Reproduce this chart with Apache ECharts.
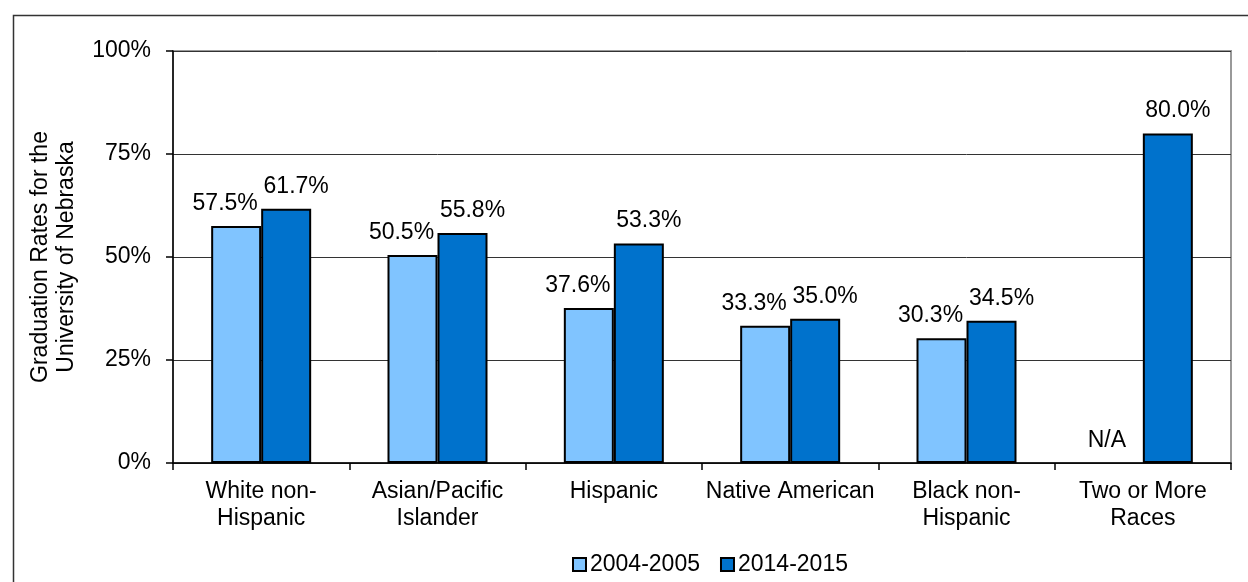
<!DOCTYPE html>
<html>
<head>
<meta charset="utf-8">
<script src="https://cdn.jsdelivr.net/npm/echarts@6/dist/echarts.min.js"></script>
<style>
html,body{margin:0;padding:0;background:#fff;}
#chart{width:1248px;height:582px;}
</style>
</head>
<body>
<div id="chart"></div>
<script>
const categories = ["White non-\nHispanic", "Asian/Pacific\nIslander", "Hispanic", "Native American", "Black non-\nHispanic", "Two or More\nRaces"];
const seriesNames = ["2004-2005", "2014-2015"];
const rates2004 = [57.5, 50.5, 37.6, 33.3, 30.3, null];
const rates2014 = [61.7, 55.8, 53.3, 35.0, 34.5, 80.0];
const yTicks = [0, 25, 50, 75, 100];
const yAxisTitle = "Graduation Rates for the\nUniversity of Nebraska";
const missingText = "N/A";

const FONT = "Liberation Sans, Arial, sans-serif";
const FS = 23;

function buildData(arr) {
  return arr.map(v => v === null
    ? { value: 0, itemStyle: { color: 'transparent', borderWidth: 0 }, label: { formatter: missingText } }
    : v);
}

const chart = echarts.init(document.getElementById('chart'), null, { renderer: 'canvas' });
const labelBase = {
  show: true, position: 'top', distance: 11,
  fontFamily: FONT, fontSize: FS, color: '#000',
  formatter: p => p.value.toFixed(1) + '%'
};
chart.setOption({
  animation: false,
  backgroundColor: '#fff',
  textStyle: { fontFamily: FONT },
  graphic: [{
    type: 'rect', left: 11, top: 13, silent: true, z: -10,
    shape: { width: 1300, height: 700 },
    style: { fill: 'none', stroke: '#333', lineWidth: 1.5 }
  }],
  grid: {
    left: 173, right: 17, top: 51, bottom: 119,
    show: true, borderColor: '#999', borderWidth: 2, backgroundColor: 'transparent'
  },
  legend: {
    left: 567, top: 548, itemWidth: 13, itemHeight: 13, itemGap: 20,
    icon: 'rect',
    textStyle: { fontFamily: FONT, fontSize: FS, color: '#000', padding: [0, 0, 0, -1] },
    data: seriesNames
  },
  xAxis: {
    type: 'category', data: categories,
    axisLine: { lineStyle: { color: '#000', width: 1.5 } },
    axisTick: { show: true, length: 7, alignWithLabel: false, lineStyle: { color: '#000', width: 1.5 } },
    axisLabel: { fontFamily: FONT, fontSize: FS, color: '#000', margin: 15, lineHeight: 27, interval: 0 },
    splitLine: { show: false }
  },
  yAxis: {
    type: 'value', min: yTicks[0], max: yTicks[yTicks.length - 1], interval: yTicks[1] - yTicks[0],
    name: yAxisTitle, nameLocation: 'middle', nameGap: 93,
    nameTextStyle: { fontFamily: FONT, fontSize: FS, color: '#000', lineHeight: 26 },
    axisLine: { show: true, lineStyle: { color: '#000', width: 1.5 } },
    axisTick: { show: true, length: 7, lineStyle: { color: '#000', width: 1.5 } },
    axisLabel: { fontFamily: FONT, fontSize: FS, color: '#000', margin: 22, formatter: '{value}%' },
    splitLine: { show: true, lineStyle: { color: '#333', width: 1 } }
  },
  series: [
    {
      name: seriesNames[0], type: 'bar', barWidth: 50, barGap: '0%',
      itemStyle: { color: '#80C4FF', borderColor: '#000', borderWidth: 2 },
      label: Object.assign({}, labelBase, { offset: [-11, 0] }),
      data: buildData(rates2004)
    },
    {
      name: seriesNames[1], type: 'bar', barWidth: 50, barGap: '0%',
      itemStyle: { color: '#0072CC', borderColor: '#000', borderWidth: 2 },
      label: Object.assign({}, labelBase, { offset: [10, 0] }),
      data: buildData(rates2014)
    }
  ]
});
</script>
</body>
</html>
